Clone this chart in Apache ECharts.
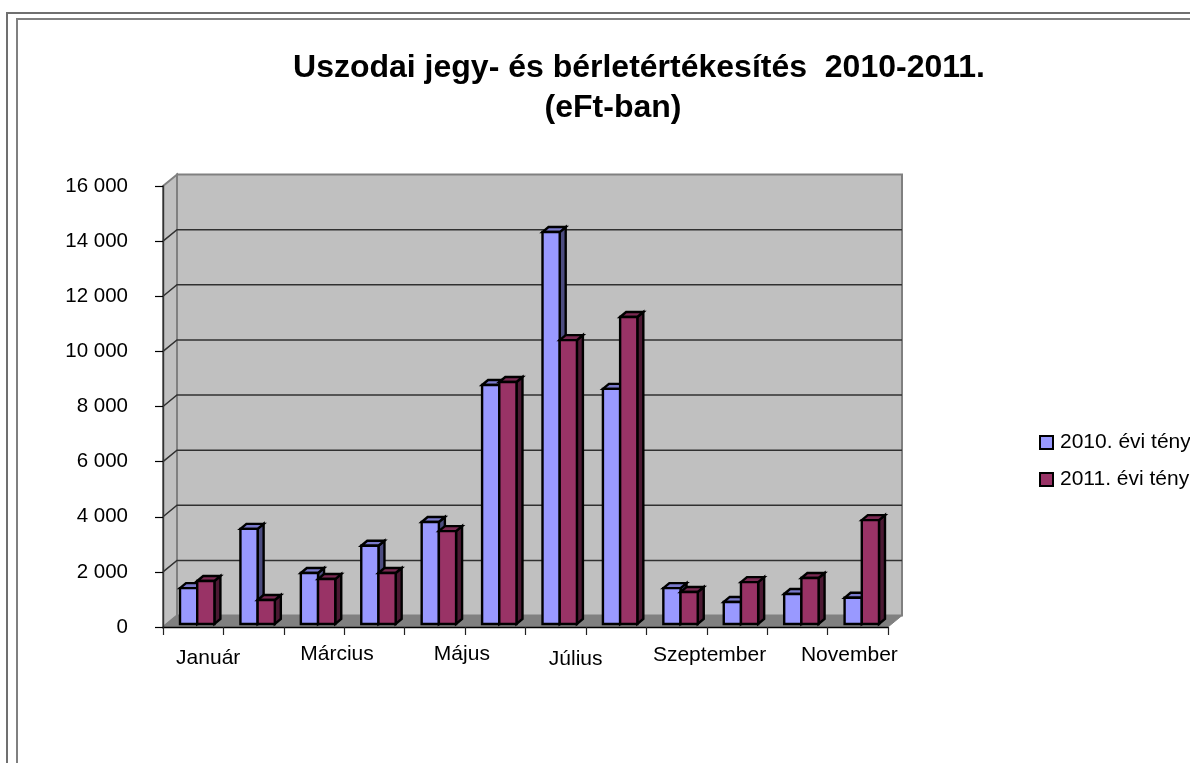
<!DOCTYPE html>
<html>
<head>
<meta charset="utf-8">
<style>html,body{margin:0;padding:0;background:#fff}#c{width:1190px;height:763px}</style>
<script src="https://cdn.jsdelivr.net/npm/echarts@6/dist/echarts.min.js"></script>
</head>
<body>
<div id="c"></div>
<script>
const titleLines = ['Uszodai jegy- és bérletértékesítés  2010-2011.','(eFt-ban)'];
const categories = ['Január','Február','Március','Április','Május','Június','Július','Augusztus','Szeptember','Október','November','December'];
const values2010 = [1300,3450,1850,2840,3700,8670,14220,8530,1300,800,1090,950];
const values2011 = [1560,870,1630,1850,3370,8780,10300,11140,1160,1520,1670,3770];
const yTicks = [0,2000,4000,6000,8000,10000,12000,14000,16000];
const seriesNames = ['2010. évi tény','2011. évi tény'];

// shifts of the (unevenly placed) category labels, [dx, dy] by category index
const labelShift = {0:[15,7],2:[23,3],4:[27,3],6:[20,8],8:[33,4],10:[52,4]};
const FONT = '"Liberation Sans", Arial, sans-serif';
const WALL = {dx:14, dy:-11.5};
const BAR = {w:17.2, ox:4, oy:-3, dx:6, dy:-5};
const palette = [
  {front:'#9999FF', side:'#4C4C80', top:'#7A7ACC'},
  {front:'#993366', side:'#4C1933', top:'#7A2952'}
];

const rich = {};
Object.keys(labelShift).forEach(k => {
  const s = labelShift[k];
  rich['l'+k] = {fontFamily:FONT, fontSize:21, color:'#000', padding:[s[1],0,0,2*s[0]]};
});

function poly(points, fill, stroke, lw){
  return {type:'polygon', shape:{points}, style:{fill, stroke, lineWidth:lw, lineJoin:'miter'}};
}

function renderWalls(params){
  const r = params.coordSys;
  const l=r.x, rt=r.x+r.width, t=r.y, b=r.y+r.height, dx=WALL.dx, dy=WALL.dy;
  return {type:'group', children:[
    poly([[l,t],[l+dx,t+dy],[l+dx,b+dy],[l,b]], '#C0C0C0', '#808080', 2),
    poly([[l+dx,t+dy],[rt+dx,t+dy],[rt+dx,b+dy],[l+dx,b+dy]], '#C0C0C0', '#808080', 2),
    poly([[l,b],[l+dx,b+dy],[rt+dx,b+dy],[rt,b]], '#808080', '#808080', 1)
  ]};
}

function renderGrid(params, api){
  const v = api.value(0);
  if (v === 0 || v === 16000) return {type:'group', children:[]};
  const r = params.coordSys;
  const y = api.coord([0, v])[1];
  return {type:'polyline', shape:{points:[[r.x,y],[r.x+WALL.dx,y+WALL.dy],[r.x+r.width+WALL.dx,y+WALL.dy]]},
    style:{fill:null, stroke:'#303030', lineWidth:1.5}};
}

function makeBarRenderer(s){
  return function(params, api){
    const p0 = api.coord([api.value(0), 0]);
    const p1 = api.coord([api.value(0), api.value(1)]);
    const c = palette[s];
    const x0 = p0[0] + BAR.ox - BAR.w + s*BAR.w, x1 = x0 + BAR.w;
    const yb = p0[1] + BAR.oy, yt = p1[1] + BAR.oy;
    const dx = BAR.dx, dy = BAR.dy;
    return {type:'group', children:[
      poly([[x1,yt],[x1+dx,yt+dy],[x1+dx,yb+dy],[x1,yb]], c.side, '#000', 2.4),
      poly([[x0,yt],[x0+dx,yt+dy],[x1+dx,yt+dy],[x1,yt]], c.top, '#000', 2.4),
      poly([[x0,yt],[x1,yt],[x1,yb],[x0,yb]], c.front, '#000', 2.4)
    ]};
  };
}

const titleStyle = {fontFamily:FONT, fontSize:32, fontWeight:'bold', color:'#000', lineHeight:40};
const chart = echarts.init(document.getElementById('c'), null, {renderer:'canvas'});
chart.setOption({
  animation:false,
  backgroundColor:'#fff',
  title:[
    {text:titleLines[0], left:639, top:48, padding:0, textAlign:'center', textStyle:titleStyle},
    {text:titleLines[1], left:613, top:88, padding:0, textAlign:'center', textStyle:titleStyle}
  ],
  legend:{
    orient:'vertical', left:1039, top:432, padding:0, itemWidth:13, itemHeight:13, itemGap:16,
    textStyle:{fontFamily:FONT, fontSize:21, color:'#000', padding:[0,0,0,2]},
    data:seriesNames.map((n,i)=>({name:n, icon:'rect',
      itemStyle:{color:palette[i].front, borderColor:'#000', borderWidth:2, opacity:1}}))
  },
  grid:{left:163, top:186, width:725, height:441, containLabel:false},
  xAxis:{
    type:'category', data:categories, boundaryGap:true, z:5,
    axisLine:{lineStyle:{color:'#000', width:1.4}},
    axisTick:{show:true, interval:0, length:8, alignWithLabel:false, lineStyle:{color:'#222', width:1.2}},
    axisLabel:{interval:1, margin:14, fontFamily:FONT, fontSize:21, color:'#000', hideOverlap:false, rich,
      formatter:(v,i)=>`{l${i}|${v}}`},
    splitLine:{show:false}
  },
  yAxis:{
    type:'value', min:0, max:16000, interval:2000, z:5,
    axisLine:{show:true, lineStyle:{color:'#333', width:1.4}},
    axisTick:{show:true, length:8, lineStyle:{color:'#000', width:1.2}},
    axisLabel:{margin:35, fontFamily:FONT, fontSize:20.5, color:'#000',
      formatter:v=>String(v).replace(/\B(?=(\d{3})+$)/g,' ')},
    splitLine:{show:false}
  },
  graphic:[
    {type:'polyline', z:100, silent:true, shape:{points:[[7,763],[7,13],[1190,13]]}, style:{fill:null, stroke:'#707070', lineWidth:2}},
    {type:'polyline', z:100, silent:true, shape:{points:[[17,763],[17,19],[1190,19]]}, style:{fill:null, stroke:'#808080', lineWidth:2}}
  ],
  series:[
    {type:'custom', name:'walls', z:1, silent:true, data:[[0]], renderItem:renderWalls, clip:false, encode:{x:0}},
    {type:'custom', name:'gridlines', z:2, silent:true, data:yTicks.map(v=>[v]), renderItem:renderGrid, clip:false, encode:{y:0}},
    {type:'custom', name:seriesNames[0], z:6, clip:false, itemStyle:{color:palette[0].front},
      data:values2010.map((v,i)=>[i,v]), renderItem:makeBarRenderer(0), encode:{x:0,y:1}},
    {type:'custom', name:seriesNames[1], z:7, clip:false, itemStyle:{color:palette[1].front},
      data:values2011.map((v,i)=>[i,v]), renderItem:makeBarRenderer(1), encode:{x:0,y:1}}
  ]
});
</script>
</body>
</html>
